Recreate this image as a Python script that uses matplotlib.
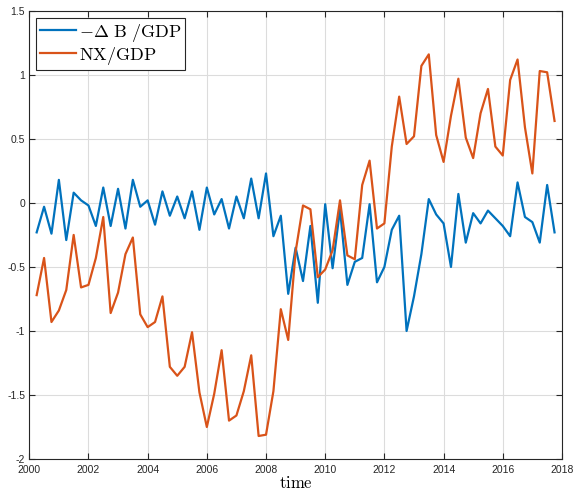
import numpy as np
import matplotlib
matplotlib.use("Agg")
import matplotlib.pyplot as plt
from matplotlib.ticker import FuncFormatter

plt.rcParams['mathtext.fontset'] = 'cm'
plt.rcParams['font.family'] = ['Liberation Sans', 'DejaVu Sans']

# quarterly time axis, 2000Q2 .. 2017Q4
time = np.arange(2000.25, 2017.76, 0.25)

# -Delta B / GDP
dB_gdp = [-0.23, -0.03, -0.24, 0.18, -0.29, 0.08, 0.02, -0.02,
          -0.18, 0.12, -0.18, 0.11, -0.20, 0.18, -0.03, 0.02,
          -0.17, 0.09, -0.10, 0.05, -0.12, 0.09, -0.21, 0.12,
          -0.09, 0.03, -0.20, 0.05, -0.12, 0.19, -0.12, 0.23,
          -0.26, -0.10, -0.71, -0.35, -0.61, -0.18, -0.78, -0.01,
          -0.51, -0.05, -0.64, -0.46, -0.43, -0.01, -0.62, -0.50,
          -0.21, -0.10, -1.00, -0.73, -0.40, 0.03, -0.09, -0.16,
          -0.50, 0.07, -0.31, -0.08, -0.16, -0.06, -0.12, -0.18,
          -0.26, 0.16, -0.11, -0.15, -0.31, 0.14, -0.23]

# NX / GDP
nx_gdp = [-0.72, -0.43, -0.93, -0.84, -0.68, -0.25, -0.66, -0.64,
          -0.43, -0.11, -0.86, -0.70, -0.40, -0.27, -0.87, -0.97,
          -0.93, -0.73, -1.28, -1.35, -1.28, -1.01, -1.48, -1.75,
          -1.49, -1.15, -1.70, -1.66, -1.47, -1.19, -1.82, -1.81,
          -1.47, -0.83, -1.07, -0.38, -0.02, -0.05, -0.58, -0.52,
          -0.37, 0.02, -0.41, -0.44, 0.14, 0.33, -0.20, -0.16,
          0.44, 0.83, 0.46, 0.52, 1.07, 1.16, 0.53, 0.32,
          0.68, 0.97, 0.51, 0.35, 0.70, 0.89, 0.44, 0.37,
          0.96, 1.12, 0.59, 0.23, 1.03, 1.02, 0.64]

fig = plt.figure(figsize=(5.74, 4.92), dpi=100)
ax = fig.add_axes([0.051, 0.067, 0.928, 0.911])

ax.plot(time, dB_gdp, color='#0072BD', lw=1.6, label=r'$-\Delta\ \mathrm{B}\ /\mathrm{GDP}$')
ax.plot(time, nx_gdp, color='#D95319', lw=1.6, label=r'$\mathrm{NX/GDP}$')

ax.set_xlim(2000, 2018)
ax.set_ylim(-2, 1.5)
ax.set_xticks(np.arange(2000, 2019, 2))
ax.set_yticks(np.arange(-2, 1.51, 0.5))
ax.yaxis.set_major_formatter(FuncFormatter(lambda v, p: ('%g' % v).replace('\u2212', '-')))

ax.grid(True, color='#dcdcdc', lw=0.8)
ax.set_axisbelow(True)
ax.tick_params(direction='in', length=4, width=0.8, top=True, right=True,
               labelsize=7.5, colors='#262626')
ax.tick_params(axis='x', pad=4.5)
ax.tick_params(axis='y', pad=3)
for s in ax.spines.values():
    s.set_color('#262626')
    s.set_linewidth(0.8)

ax.set_xlabel(r'$\mathrm{time}$', fontsize=12, labelpad=0)

leg = ax.legend(loc='upper left', fontsize=13, fancybox=False, framealpha=1,
                edgecolor='#262626', handlelength=2.0, handletextpad=0.15,
                borderpad=0.2, labelspacing=0.05, borderaxespad=0.4)
leg.get_frame().set_linewidth(0.8)

fig.savefig('out.png', dpi=100)
